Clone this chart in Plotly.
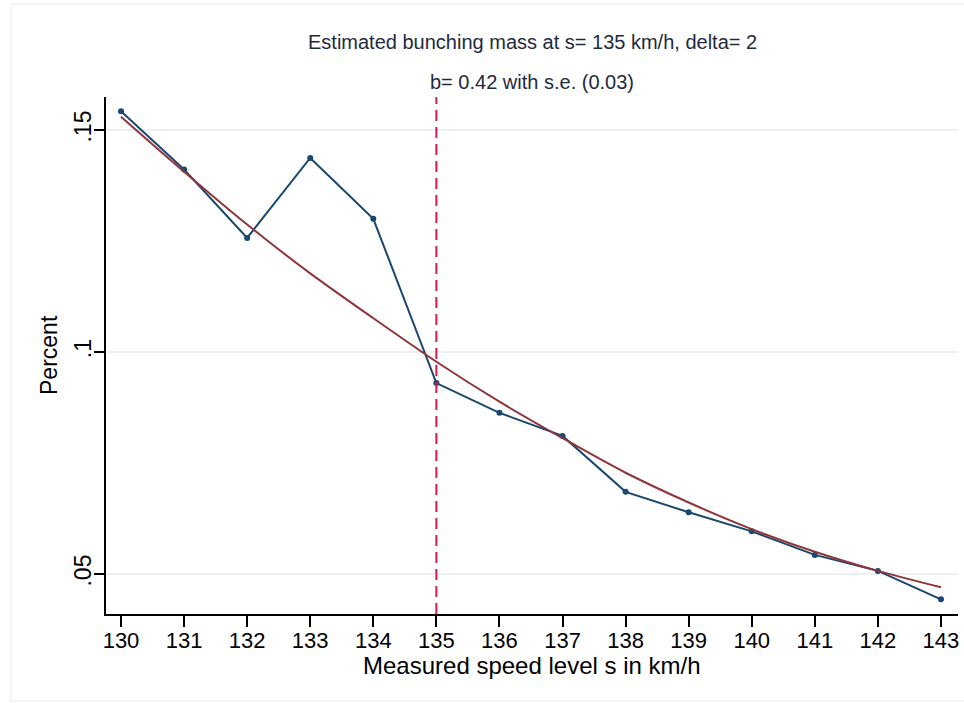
import plotly.graph_objects as go

speeds = [130, 131, 132, 133, 134, 135, 136, 137, 138, 139, 140, 141, 142, 143]
observed = [0.1542, 0.1411, 0.1257, 0.1437, 0.1300, 0.0930, 0.0863, 0.0811,
            0.0685, 0.0639, 0.0596, 0.0543, 0.0507, 0.0443]
fitted = [0.1530, 0.1406, 0.1287, 0.1177, 0.1076, 0.0978, 0.0888, 0.0806,
          0.0728, 0.0661, 0.0601, 0.0550, 0.0507, 0.0470]
threshold = 135
x_ticks = list(range(130, 144))
y_ticks = [0.05, 0.1, 0.15]
y_ticklabels = [".05", ".1", ".15"]
title_line1 = "Estimated bunching mass at s= 135 km/h, delta= 2"
title_line2 = "b= 0.42 with s.e. (0.03)"

FONT = "Liberation Sans, Arial, sans-serif"

fig = go.Figure()
fig.add_trace(go.Scatter(
    x=speeds, y=observed, mode="lines+markers",
    line=dict(color="#1a476f", width=2),
    marker=dict(color="#1a476f", size=6),
    showlegend=False, hoverinfo="skip"))
fig.add_trace(go.Scatter(
    x=speeds, y=fitted, mode="lines",
    line=dict(color="#90353b", width=2, shape="spline", smoothing=0.8),
    showlegend=False, hoverinfo="skip"))

fig.add_shape(type="line", xref="x", yref="paper", x0=threshold, x1=threshold,
              y0=0, y1=1, line=dict(color="#d31a4a", width=2, dash="11px,6px"))
# faint outer frame
fig.add_shape(type="rect", xref="paper", yref="paper",
              x0=-0.1115, x1=1.02, y0=-0.1683, y1=1.18,
              line=dict(color="#e4ecef", width=1), layer="below")

fig.add_annotation(text=title_line1, xref="paper", yref="paper", x=0.5, y=1.1064,
                   showarrow=False, font=dict(family=FONT, size=20, color="#1e2a40"),
                   xanchor="center", yanchor="middle")
fig.add_annotation(text=title_line2, xref="paper", yref="paper", x=0.5, y=1.029,
                   showarrow=False, font=dict(family=FONT, size=20, color="#1e2a40"),
                   xanchor="center", yanchor="middle")
fig.add_annotation(text="Measured speed level s in km/h", xref="paper", yref="paper",
                   x=0.4995, y=-0.0987, showarrow=False,
                   font=dict(family=FONT, size=24, color="#000000"),
                   xanchor="center", yanchor="middle")
fig.add_annotation(text="Percent", xref="paper", yref="paper",
                   x=-0.0669, y=0.501, showarrow=False, textangle=-90,
                   font=dict(family=FONT, size=23, color="#000000"),
                   xanchor="center", yanchor="middle")

fig.update_layout(
    width=964, height=703,
    margin=dict(l=106, r=6, t=97, b=89, autoexpand=False),
    paper_bgcolor="white", plot_bgcolor="white",
    font=dict(family=FONT, color="#000000"),
    xaxis=dict(range=[129.762, 143.27], tickmode="array", tickvals=x_ticks,
               ticks="outside", ticklen=11, tickwidth=1.5, tickcolor="black",
               showline=True, linecolor="black", linewidth=1.5,
               showgrid=False, zeroline=False, automargin=False,
               tickfont=dict(family=FONT, size=22, color="#000000"),
               ticklabeloverflow="allow",
               ticklabelstandoff=-5),
    yaxis=dict(range=[0.04099, 0.15743], tickmode="array", tickvals=y_ticks,
               ticktext=y_ticklabels, tickangle=-90,
               ticks="outside", ticklen=10, tickwidth=1.5, tickcolor="black",
               showline=True, linecolor="black", linewidth=1.5,
               showgrid=True, gridcolor="#eaf0f3", gridwidth=1.5,
               zeroline=False, automargin=False,
               tickfont=dict(family=FONT, size=23, color="#000000"),
               ticklabelstandoff=-6),
)

fig.write_html("out.html",
               config={"displayModeBar": False},
               post_script="document.body.style.margin='0';document.body.style.overflow='hidden';")
